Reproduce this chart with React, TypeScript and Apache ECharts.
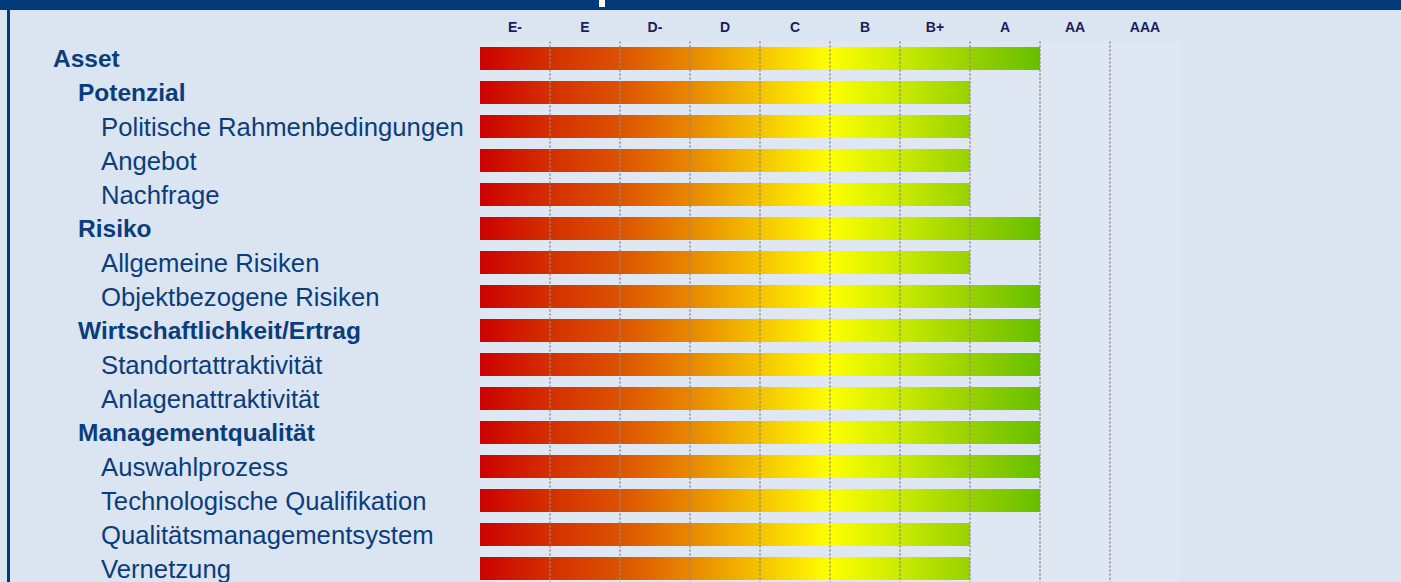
import React, { useEffect, useRef } from "react";
import * as echarts from "echarts";

const categories = [
  "Asset",
  "Potenzial",
  "Politische Rahmenbedingungen",
  "Angebot",
  "Nachfrage",
  "Risiko",
  "Allgemeine Risiken",
  "Objektbezogene Risiken",
  "Wirtschaftlichkeit/Ertrag",
  "Standortattraktivität",
  "Anlagenattraktivität",
  "Managementqualität",
  "Auswahlprozess",
  "Technologische Qualifikation",
  "Qualitätsmanagementsystem",
  "Vernetzung",
];
const levels = [0, 1, 2, 2, 2, 1, 2, 2, 1, 2, 2, 1, 2, 2, 2, 2];
// rating reached (number of rating classes filled, 8 = A, 7 = B+)
const scores = [8, 7, 7, 7, 7, 8, 7, 8, 8, 8, 8, 8, 8, 8, 7, 7];
const ratings = ["E-", "E", "D-", "D", "C", "B", "B+", "A", "AA", "AAA"];

const NAVY = "#0b3d7c";

export default function App() {
  const ref = useRef<HTMLDivElement>(null);
  useEffect(() => {
    if (!ref.current) return;
    const chart = echarts.init(ref.current, undefined, { renderer: "svg" });
    const grad = new echarts.graphic.LinearGradient(
      478,
      0,
      1040,
      0,
      [
        { offset: 0, color: "#cc0000" },
        { offset: 0.125, color: "#d42e00" },
        { offset: 0.25, color: "#dc5200" },
        { offset: 0.375, color: "#e88600" },
        { offset: 0.5, color: "#f4c200" },
        { offset: 0.625, color: "#ffff00" },
        { offset: 0.75, color: "#cbeb00" },
        { offset: 0.875, color: "#98d200" },
        { offset: 1, color: "#66bf00" },
      ],
      true
    );
    const labelAxis = (lvl: number, margin: number) => ({
      type: "category" as const,
      data: categories,
      inverse: true,
      gridIndex: 0,
      position: "left" as const,
      offset: 0,
      axisLine: { show: false },
      axisTick: { show: false },
      splitLine: { show: false },
      axisLabel: {
        interval: 0,
        margin,
        align: "left" as const,
        color: NAVY,
        fontFamily: "Liberation Sans",
        fontSize: lvl === 2 ? 25.7 : 24.5,
        fontWeight: lvl === 2 ? ("normal" as const) : ("bold" as const),
        formatter: (v: string, i: number) => (levels[i] === lvl ? v : ""),
      },
    });
    chart.setOption({
      animation: false,
      backgroundColor: "#dbe5f1",
      textStyle: { fontFamily: "Liberation Sans" },
      grid: {
        left: 480,
        width: 700,
        top: 41.5,
        height: 544,
        outerBoundsMode: "none",
        containLabel: false,
        show: true,
        backgroundColor: "#dee7f2",
        borderWidth: 0,
      },
      xAxis: [
        {
          type: "value",
          min: 0,
          max: 10,
          interval: 1,
          position: "bottom",
          z: 5,
          axisLine: { show: false },
          axisTick: { show: false },
          axisLabel: { show: false },
          splitLine: {
            show: true,
            showMinLine: false,
            showMaxLine: false,
            lineStyle: { color: "#8c8c8c", width: 1.5, type: [2, 2] },
          },
        },
        {
          type: "category",
          data: ratings,
          position: "top",
          gridIndex: 0,
          axisLine: { show: false },
          axisTick: { show: false },
          splitLine: { show: false },
          axisLabel: {
            interval: 0,
            margin: 8,
            color: "#1c1c5c",
            fontSize: 14,
            fontWeight: "bold",
            fontFamily: "Liberation Sans",
          },
        },
      ],
      yAxis: [labelAxis(0, 427), labelAxis(1, 402), labelAxis(2, 379)],
      series: [
        {
          type: "bar",
          xAxisIndex: 0,
          yAxisIndex: 0,
          data: scores,
          barWidth: 23,
          itemStyle: { color: grad },
          z: 2,
        },
      ],
      graphic: [
        { type: "rect", shape: { x: 0, y: 0, width: 1401, height: 10 }, style: { fill: "#003a78" }, z: 100 },
        { type: "rect", shape: { x: 7, y: 10, width: 3, height: 572 }, style: { fill: "#003a78" }, z: 100 },
        { type: "rect", shape: { x: 599, y: 0, width: 6, height: 7 }, style: { fill: "#ffffff" }, z: 101 },
      ],
    });
    return () => chart.dispose();
  }, []);
  return (
    <div
      ref={ref}
      style={{ position: "fixed", left: 0, top: 0, width: 1401, height: 582 }}
    />
  );
}
